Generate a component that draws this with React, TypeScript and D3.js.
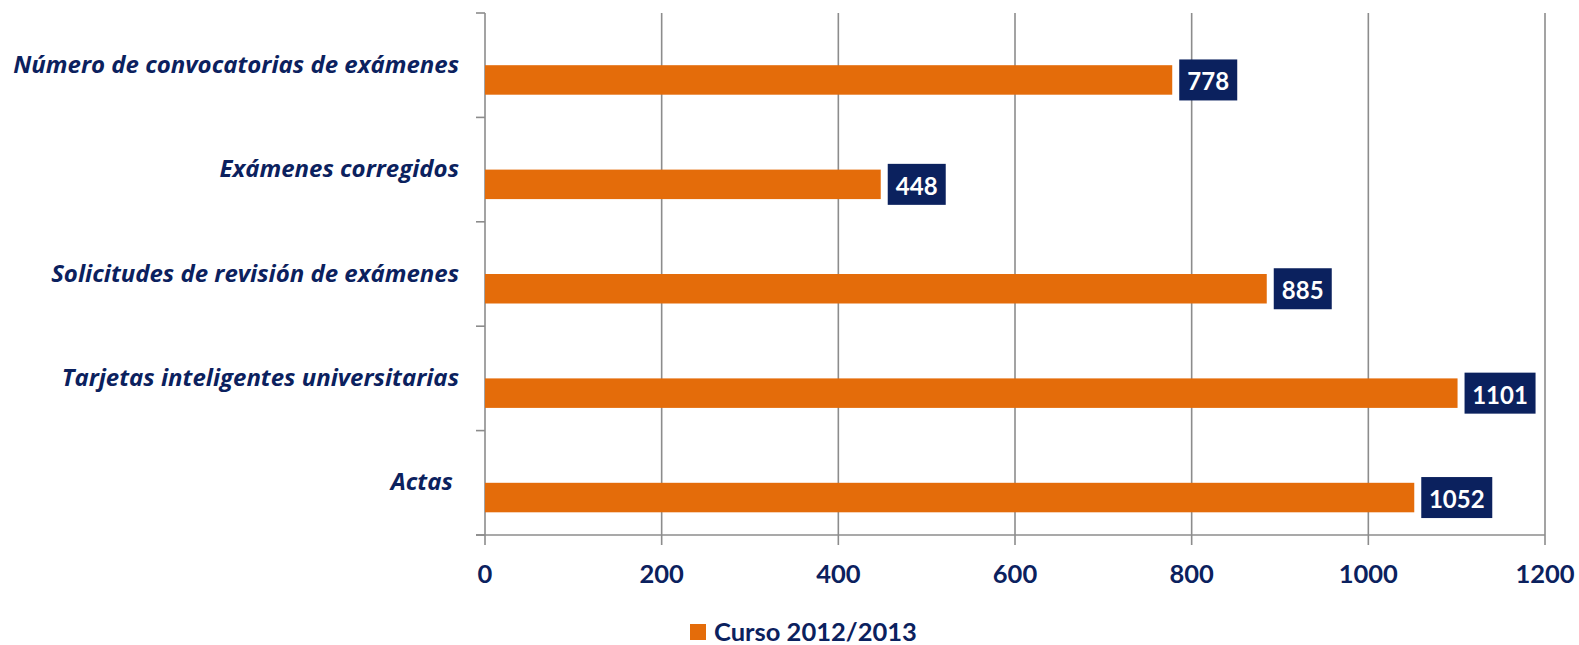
import React from "react";
import * as d3 from "d3";

const categories = [
  "Número de convocatorias de exámenes",
  "Exámenes corregidos",
  "Solicitudes de revisión de exámenes",
  "Tarjetas inteligentes universitarias",
  "Actas ",
];
const values = [778, 448, 885, 1101, 1052];
const xTicks = [0, 200, 400, 600, 800, 1000, 1200];
const seriesName = "Curso 2012/2013";

const W = 1579;
const H = 645;
const NAVY = "#0b215e";
const ORANGE = "#e46c0a";
const GRID = "#8c8c8c";
const FONT = "Lato, 'Open Sans', sans-serif";
const CAT_FONT = "'Open Sans', Lato, sans-serif";

export default function App() {
  const left = 485;
  const right = 1545;
  const top = 13;
  const bottom = 535;
  const x = d3.scaleLinear().domain([0, 1200]).range([left, right]);
  const y = d3.scaleBand<string>().domain(categories).range([top, bottom]);
  const bw = y.bandwidth();
  const barH = 29.5;
  const catTicks = d3.range(categories.length + 1).map((i) => top + i * bw);

  return (
    <svg
      width={W}
      height={H}
      style={{ position: "absolute", left: 0, top: 0, background: "#fff" }}
      fontFamily={FONT}
    >
      {xTicks.map((t) => (
        <line key={"g" + t} x1={x(t)} x2={x(t)} y1={top} y2={bottom + 10} stroke={GRID} strokeWidth={1.6} />
      ))}
      <line x1={left - 9} x2={right} y1={bottom} y2={bottom} stroke={GRID} strokeWidth={1.6} />
      {catTicks.map((t, i) => (
        <line key={"c" + i} x1={left - 9} x2={left} y1={t} y2={t} stroke={GRID} strokeWidth={1.6} />
      ))}
      {categories.map((c, i) => {
        const cy = (y(c) as number) + bw / 2;
        return (
          <rect key={"b" + i} x={x(0)} y={cy} width={x(values[i]) - x(0)} height={barH} fill={ORANGE} />
        );
      })}
      {categories.map((c, i) => {
        const cy = (y(c) as number) + bw / 2 + barH / 2;
        const txt = String(values[i]);
        const bwid = txt.length * 13 + 19;
        const bx = x(values[i]) + 7;
        return (
          <g key={"l" + i}>
            <rect x={bx} y={cy - 20.5} width={bwid} height={41} fill={NAVY} />
            <text
              x={bx + bwid / 2}
              y={cy + 1}
              textAnchor="middle"
              dominantBaseline="central"
              fill="#fff"
              fontWeight="bold"
              fontSize={24}
            >
              {txt}
            </text>
          </g>
        );
      })}
      {categories.map((c, i) => (
        <text
          key={"t" + i}
          x={459}
          y={(y(c) as number) + bw / 2 - 2}
          textAnchor="end"
          dominantBaseline="central"
          fill={NAVY}
          fontWeight="bold"
          fontStyle="italic"
          fontSize={24}
          fontFamily={CAT_FONT}
          style={{ whiteSpace: "pre" }}
        >
          {c}
        </text>
      ))}
      {xTicks.map((t) => (
        <text
          key={"x" + t}
          x={x(t)}
          y={573}
          textAnchor="middle"
          dominantBaseline="central"
          fill={NAVY}
          fontWeight="bold"
          fontSize={25.5}
        >
          {t}
        </text>
      ))}
      <rect x={690} y={624} width={16} height={16} fill={ORANGE} />
      <text x={714} y={631} dominantBaseline="central" fill={NAVY} fontWeight="bold" fontSize={25.5}>
        {seriesName}
      </text>
    </svg>
  );
}
